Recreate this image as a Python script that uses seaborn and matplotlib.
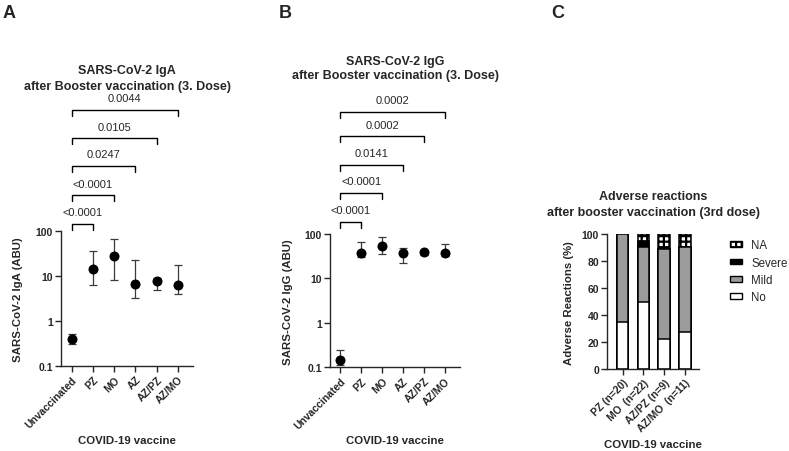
import numpy as np
import matplotlib
matplotlib.use("Agg")
import matplotlib.pyplot as plt
from matplotlib.patches import Patch
from matplotlib.ticker import NullLocator
import seaborn as sns

# ---- data ----
vaccines = ['Unvaccinated', 'PZ', 'MO', 'AZ', 'AZ/PZ', 'AZ/MO']

iga_med = [0.39, 14.1, 27.5, 6.7, 7.6, 6.2]
iga_lo = [0.30, 6.5, 8.3, 3.2, 5.0, 4.0]
iga_hi = [0.51, 36.7, 65.8, 22.7, 9.3, 17.6]
iga_p = ['<0.0001', '<0.0001', '0.0247', '0.0105', '0.0044']

igg_med = [0.147, 36.5, 54.4, 36.5, 38.5, 37.8]
igg_lo = [0.111, 29.7, 34.7, 22.1, 34.0, 32.4]
igg_hi = [0.243, 66.8, 86.7, 48.2, 42.0, 59.3]
igg_p = ['<0.0001', '<0.0001', '0.0141', '0.0002', '0.0002']

groups = ['PZ (n=20)', 'MO  (n=22)', 'AZ/PZ (n=9)', 'AZ/MO  (n=11)']
pct_no = [35.0, 50.0, 22.2, 27.3]
pct_mild = [65.0, 40.9, 66.7, 63.6]
pct_severe = [0.0, 4.5, 0.0, 0.0]
pct_na = [0.0, 4.6, 11.1, 9.1]

sns.set_style("ticks")
plt.rcParams['font.family'] = ['Liberation Sans', 'DejaVu Sans']
plt.rcParams['hatch.linewidth'] = 1.6
GRAY = '#9b9b9b'
TICK_FS, LAB_FS, P_FS, TITLE_FS = 7.5, 8.2, 8, 9

fig = plt.figure(figsize=(7.89, 4.52), dpi=100)


def style_axis(ax):
    sns.despine(ax=ax)
    for s in ['left', 'bottom']:
        ax.spines[s].set_linewidth(1.0)
    ax.tick_params(axis='both', width=1.0, length=4, pad=2, labelsize=TICK_FS)
    for lab in ax.get_xticklabels() + ax.get_yticklabels():
        lab.set_fontweight('bold')
    for lab in ax.get_xticklabels():
        lab.set_rotation(45)
        lab.set_ha('right')
        lab.set_va('top')
        lab.set_rotation_mode('anchor')


def titer_panel(rect, med, lo, hi, pvals, br_y, title, title_y, title_ls,
                ylabel, xlab_y):
    ax = fig.add_axes(rect)
    xs = np.arange(len(vaccines))
    ax.set_yscale('log')
    err = [np.array(med) - np.array(lo), np.array(hi) - np.array(med)]
    ax.errorbar(xs, med, yerr=err, fmt='none', ecolor='#3a3a3a',
                elinewidth=0.9, capsize=3, capthick=0.9, zorder=2)
    sns.scatterplot(x=xs, y=med, ax=ax, color='black', s=52,
                    edgecolor='black', linewidth=0, zorder=3)
    ax.set_ylim(0.1, 100)
    ax.set_xlim(-0.5, 5.72)
    ax.set_yticks([0.1, 1, 10, 100])
    ax.set_yticklabels(['0.1', '1', '10', '100'])
    ax.yaxis.set_minor_locator(NullLocator())
    ax.set_xticks(xs)
    ax.set_xticklabels(vaccines)
    style_axis(ax)

    # significance brackets from Unvaccinated to each group
    tr = ax.get_xaxis_transform()
    d = 0.045
    for i, (p, y) in enumerate(zip(pvals, br_y), start=1):
        ax.plot([0, 0, i, i], [y - d, y, y, y - d], transform=tr,
                color='black', lw=1.0, clip_on=False)
        ax.annotate(p, xy=(i / 2, y), xycoords=tr, xytext=(0, 8.3),
                    textcoords='offset points', ha='center', va='center',
                    fontsize=P_FS)

    ax.text(0.5, title_y, title, transform=ax.transAxes, ha='center',
            va='center', fontsize=TITLE_FS, fontweight='bold',
            linespacing=title_ls)
    ax.set_ylabel(ylabel, fontsize=LAB_FS, fontweight='bold')
    ax.yaxis.set_label_coords(-0.285, 0.5)
    ax.set_xlabel('COVID-19 vaccine', fontsize=LAB_FS, fontweight='bold')
    ax.xaxis.set_label_coords(0.5, xlab_y)
    ax.xaxis.label.set_va('center')
    return ax


# ---- A: IgA ----
titer_panel([0.0773, 0.1887, 0.1677, 0.2973], iga_med, iga_lo, iga_hi, iga_p,
            [1.058, 1.270, 1.488, 1.692, 1.905],
            'SARS-CoV-2 IgA\nafter Booster vaccination (3. Dose)', 2.142, 1.42,
            'SARS-CoV-2 IgA (ABU)', -0.553)

# ---- B: IgG ----
titer_panel([0.4183, 0.1852, 0.1648, 0.2949], igg_med, igg_lo, igg_hi, igg_p,
            [1.090, 1.308, 1.521, 1.733, 1.918],
            'SARS-CoV-2 IgG\nafter Booster vaccination (3. Dose)', 2.246, 1.3,
            'SARS-CoV-2 IgG (ABU)', -0.543)

# ---- C: adverse reactions, stacked bars drawn tallest first ----
axc = fig.add_axes([0.7697, 0.1814, 0.1162, 0.298])
no = np.array(pct_no)
tot_mild = no + np.array(pct_mild)
tot_sev = tot_mild + np.array(pct_severe)
tot_na = tot_sev + np.array(pct_na)
# NA gets a check pattern
layers = [(tot_na, 'white', '+++'), (tot_sev, 'black', None),
          (tot_mild, GRAY, None), (no, 'white', None)]
for vals, col, hatch in layers:
    sns.barplot(x=groups, y=vals, ax=axc, color=col, saturation=1,
                width=0.55, edgecolor='black', linewidth=1.1, hatch=hatch)
axc.set_xlim(-0.73, 3.67)
axc.set_ylim(0, 100)
axc.set_yticks([0, 20, 40, 60, 80, 100])
style_axis(axc)
axc.text(0.5, 1.225, 'Adverse reactions\nafter booster vaccination (3rd dose)',
         transform=axc.transAxes, ha='center', va='center', fontsize=TITLE_FS,
         fontweight='bold', linespacing=1.35)
axc.set_ylabel('Adverse Reactions (%)', fontsize=LAB_FS, fontweight='bold')
axc.yaxis.set_label_coords(-0.36, 0.5)
axc.set_xlabel('COVID-19 vaccine', fontsize=LAB_FS, fontweight='bold')
axc.xaxis.set_label_coords(0.5, -0.557)
axc.xaxis.label.set_va('center')

handles = [Patch(facecolor='white', edgecolor='black', hatch='+++', label='NA'),
           Patch(facecolor='black', edgecolor='black', label='Severe'),
           Patch(facecolor=GRAY, edgecolor='black', label='Mild'),
           Patch(facecolor='white', edgecolor='black', label='No')]
fig.legend(handles=handles, loc='upper left',
           bbox_to_anchor=(730 / 789, (452 - 240.5) / 452),
           bbox_transform=fig.transFigure, frameon=False, fontsize=8.3,
           handlelength=1.0, handleheight=0.4, handletextpad=0.85,
           labelspacing=0.45, borderpad=0, borderaxespad=0)

# panel letters
for lab, x in [('A', 0.003), ('B', 0.353), ('C', 0.699)]:
    fig.text(x, 0.99, lab, fontsize=13, fontweight='bold', va='top', ha='left')

fig.savefig('out.png', dpi=100)
